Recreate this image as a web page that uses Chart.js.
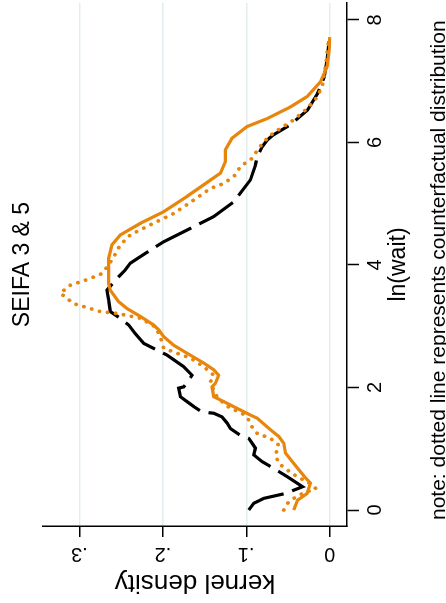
<!DOCTYPE html>
<html>
<head>
<meta charset="utf-8">
<script src="https://cdn.jsdelivr.net/npm/chart.js@4.4.1/dist/chart.umd.min.js"></script>
<style>
  html, body { margin: 0; padding: 0; background: #fff; overflow: hidden; }
  #rot {
    position: absolute; left: 0; top: 0;
    width: 603px; height: 446px;
    transform-origin: 0 0;
    transform: translate(0, 603px) rotate(-90deg);
  }
</style>
</head>
<body>
<div id="rot"><canvas id="kd" width="603" height="446"></canvas></div>
<script>
// ln(wait) and kernel density
const solidX = [0.00, 0.16, 0.27, 0.44, 0.54, 0.76, 0.93, 1.09, 1.20, 1.31, 1.50, 1.55, 1.66, 1.77, 1.85, 2.01, 2.07, 2.20, 2.29, 2.40, 2.56, 2.69, 2.83, 2.94, 3.02, 3.16, 3.29, 3.40, 3.59, 3.70, 3.92, 4.11, 4.33, 4.49, 4.68, 4.87, 5.12, 5.31, 5.50, 5.69, 5.88, 6.07, 6.26, 6.39, 6.58, 6.75, 6.99, 7.24, 7.51, 7.72];
const solidY = [0.043, 0.0385, 0.027, 0.023, 0.030, 0.043, 0.053, 0.055, 0.061, 0.071, 0.087, 0.095, 0.111, 0.127, 0.139, 0.141, 0.137, 0.133, 0.139, 0.151, 0.171, 0.187, 0.199, 0.205, 0.211, 0.227, 0.243, 0.253, 0.263, 0.265, 0.265, 0.265, 0.261, 0.251, 0.227, 0.199, 0.171, 0.151, 0.131, 0.125, 0.125, 0.117, 0.099, 0.075, 0.047, 0.027, 0.011, 0.003, 0.0005, 0.0];

const dashX = [0.00, 0.11, 0.19, 0.27, 0.38, 0.54, 0.68, 0.79, 0.90, 1.01, 1.09, 1.17, 1.22, 1.33, 1.42, 1.52, 1.58, 1.60, 1.69, 1.77, 1.85, 1.99, 2.01, 2.12, 2.20, 2.34, 2.53, 2.61, 2.72, 2.88, 3.02, 3.13, 3.24, 3.43, 3.59, 3.78, 3.92, 4.03, 4.19, 4.38, 4.57, 4.79, 5.03, 5.39, 5.63, 5.74, 5.93, 6.04, 6.12, 6.29, 6.53, 6.80, 7.07, 7.35, 7.72];
const dashY = [0.097, 0.091, 0.079, 0.053, 0.0325, 0.0505, 0.067, 0.081, 0.091, 0.089, 0.093, 0.097, 0.107, 0.119, 0.123, 0.129, 0.139, 0.153, 0.163, 0.171, 0.179, 0.181, 0.175, 0.169, 0.165, 0.175, 0.195, 0.207, 0.223, 0.233, 0.241, 0.251, 0.263, 0.265, 0.267, 0.255, 0.245, 0.239, 0.221, 0.199, 0.171, 0.139, 0.115, 0.095, 0.089, 0.0875, 0.081, 0.075, 0.068, 0.047, 0.0265, 0.0145, 0.0065, 0.003, 0.0];

const dotX = [0.00, 0.11, 0.19, 0.27, 0.35, 0.46, 0.54, 0.65, 0.76, 0.90, 1.06, 1.17, 1.25, 1.39, 1.47, 1.58, 1.66, 1.74, 1.85, 1.96, 2.09, 2.20, 2.34, 2.48, 2.58, 2.64, 2.83, 2.99, 3.13, 3.21, 3.24, 3.37, 3.54, 3.67, 3.76, 3.86, 4.08, 4.33, 4.49, 4.63, 4.84, 5.06, 5.25, 5.33, 5.47, 5.61, 5.74, 5.91, 6.10, 6.23, 6.37, 6.56, 6.75, 6.94, 7.29, 7.62];
const dotY = [0.055, 0.0505, 0.043, 0.0325, 0.0165, 0.0265, 0.0385, 0.0505, 0.061, 0.065, 0.061, 0.071, 0.087, 0.095, 0.097, 0.105, 0.119, 0.127, 0.135, 0.139, 0.143, 0.139, 0.151, 0.167, 0.187, 0.199, 0.203, 0.209, 0.227, 0.255, 0.275, 0.307, 0.323, 0.311, 0.291, 0.273, 0.261, 0.251, 0.239, 0.219, 0.187, 0.163, 0.143, 0.127, 0.113, 0.107, 0.093, 0.085, 0.073, 0.059, 0.043, 0.0265, 0.0145, 0.0085, 0.0045, 0.0017];

const xTicks = [0, 2, 4, 6, 8];
const xTickLabels = ['0', '2', '4', '6', '8'];
const yTicks = [0, 0.1, 0.2, 0.3];
const yTickLabels = ['0', '.1', '.2', '.3'];

const titleText = 'SEIFA 3 & 5';
const xTitle = 'ln(wait)';
const yTitle = 'kernel density';
const noteText = 'note: dotted line represents counterfactual distribution';

const ORANGE = '#e8850c';
const FONT = '"Liberation Sans", Arial, Helvetica, sans-serif';

function pts(xs, ys) {
    return xs.map((x, i) => ({ x: x, y: ys[i] }));
}

// axis labels, titles and note drawn in stata-ish positions
const statText = {
    id: 'statText',
    afterDraw(chart) {
        const ctx = chart.ctx;
        const a = chart.chartArea;
        const xs = chart.scales.x, ys = chart.scales.y;
        const cx = (a.left + a.right) / 2;
        ctx.save();
        ctx.fillStyle = '#000';
        ctx.textAlign = 'center';
        ctx.textBaseline = 'middle';

        ctx.font = '23px ' + FONT;
        ctx.fillText(titleText, cx, 23);

        ctx.font = '20px ' + FONT;
        xTicks.forEach((t, i) => ctx.fillText(xTickLabels[i], xs.getPixelForValue(t), 375));

        ctx.font = '23px ' + FONT;
        ctx.fillText(xTitle, cx, 399);

        ctx.font = '20px ' + FONT;
        yTicks.forEach((t, i) => {
            ctx.save();
            ctx.translate(49, ys.getPixelForValue(t));
            ctx.rotate(-Math.PI / 2);
            ctx.fillText(yTickLabels[i], 0, 0);
            ctx.restore();
        });

        ctx.save();
        ctx.font = '26px ' + FONT;
        ctx.translate(21, (a.top + a.bottom) / 2);
        ctx.rotate(-Math.PI / 2);
        ctx.fillText(yTitle, 0, 0);
        ctx.restore();

        ctx.textAlign = 'left';
        ctx.textBaseline = 'alphabetic';
        ctx.font = '21px ' + FONT;
        ctx.fillText(noteText, 83, 445);
        ctx.restore();
    }
};

const ctx = document.getElementById('kd').getContext('2d');
new Chart(ctx, {
    type: 'scatter',
    data: {
        datasets: [
            {
                label: 'solid',
                data: pts(solidX, solidY),
                showLine: true,
                borderColor: ORANGE,
                borderWidth: 3.2,
                pointRadius: 0,
                tension: 0
            },
            {
                label: 'counterfactual',
                data: pts(dotX, dotY),
                showLine: true,
                borderColor: ORANGE,
                borderWidth: 3.8,
                borderDash: [0.1, 8],
                borderCapStyle: 'round',
                pointRadius: 0,
                tension: 0
            },
            {
                label: 'dashed',
                data: pts(dashX, dashY),
                showLine: true,
                borderColor: '#000',
                borderWidth: 3.2,
                borderDash: [40, 9],
                pointRadius: 0,
                tension: 0
            }
        ]
    },
    options: {
        responsive: false,
        animation: false,
        devicePixelRatio: 1,
        layout: { padding: { left: 0, right: 3, top: 43, bottom: 0 } },
        plugins: {
            legend: { display: false },
            tooltip: { enabled: false }
        },
        scales: {
            x: {
                type: 'linear',
                min: -0.261,
                max: 8.277,
                afterBuildTicks: s => { s.ticks = xTicks.map(v => ({ value: v })); },
                afterFit: s => { s.height = 99; },
                ticks: { display: false },
                grid: {
                    drawOnChartArea: false,
                    drawTicks: true,
                    tickLength: 12,
                    tickColor: '#000',
                    tickWidth: 1.5
                },
                border: { display: true, color: '#000', width: 1.5 }
            },
            y: {
                type: 'linear',
                min: -0.0208,
                max: 0.3437,
                afterBuildTicks: s => { s.ticks = yTicks.map(v => ({ value: v })); },
                afterFit: s => { s.width = 77; },
                ticks: { display: false },
                grid: {
                    drawOnChartArea: true,
                    color: '#e3edf0',
                    lineWidth: 1.5,
                    drawTicks: true,
                    tickLength: 11,
                    tickColor: '#000',
                    tickWidth: 1.5
                },
                border: { display: true, color: '#000', width: 1.5 }
            }
        }
    },
    plugins: [statText]
});
</script>
</body>
</html>
